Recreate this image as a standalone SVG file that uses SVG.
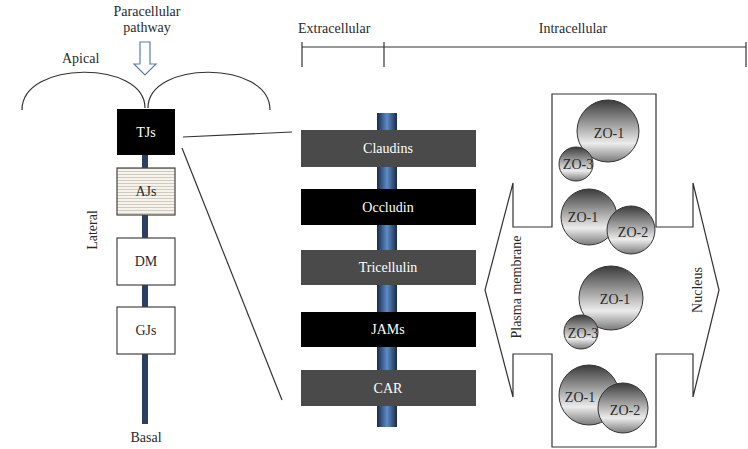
<svg xmlns="http://www.w3.org/2000/svg" width="748" height="449" viewBox="0 0 748 449">
<defs>
<linearGradient id="bar" x1="0" y1="0" x2="1" y2="0">
<stop offset="0" stop-color="#1b2a48"/><stop offset="0.5" stop-color="#5b8cc8"/><stop offset="1" stop-color="#1b2a48"/>
</linearGradient>
<linearGradient id="ball" x1="0" y1="0" x2="0" y2="1">
<stop offset="0" stop-color="#3a3a3a"/><stop offset="0.7" stop-color="#ececec"/><stop offset="1" stop-color="#7a7a7a"/>
</linearGradient>
<pattern id="stripe" width="6" height="3" patternUnits="userSpaceOnUse">
<rect width="6" height="3" fill="#f6f3ec"/><line x1="0" y1="0.5" x2="6" y2="0.5" stroke="#cfcac0" stroke-width="1"/>
</pattern>
<style>
text{font-family:"Liberation Serif",serif;fill:#2a2a2a;font-size:14px}
.c{text-anchor:middle}
.w{fill:#fff}
.ln{fill:none;stroke:#333;stroke-width:1.2}
.box{stroke:#444;stroke-width:1.2}
.ball{fill:url(#ball);stroke:#333;stroke-width:1}
</style>
</defs>
<rect width="748" height="449" fill="#fff"/>

<g id="labels-left">
<text class="c" x="147" y="16">Paracellular</text>
<text class="c" x="147" y="32">pathway</text>
<text x="62" y="63">Apical</text>
<text class="c" x="146" y="442">Basal</text>
<text class="c" transform="translate(97,230) rotate(-90)">Lateral</text>
</g>
<g id="pathway-arrow">
<path d="M140,42 H150 V64 H156 L145,75 L134,64 H140 Z" fill="#fff" stroke="#5b7fa8" stroke-width="1.2"/>
</g>
<g id="apical-arcs">
<path class="ln" d="M22,110 C22,60 145,60 145,108"/>
<path class="ln" d="M148,108 C148,60 270,60 270,110"/>
</g>
<g id="membrane-left">
<rect x="142" y="150" width="6" height="274" fill="#2b3f63"/>
</g>
<g id="TJs">
<rect x="117" y="109" width="58" height="46" fill="#000"/>
<text class="c w" x="146" y="137">TJs</text>
</g>
<g id="AJs">
<rect class="box" x="117" y="168" width="58" height="47" fill="url(#stripe)"/>
<text class="c" x="146" y="196">AJs</text>
</g>
<g id="DM">
<rect class="box" x="117" y="238" width="58" height="47" fill="#fff"/>
<text class="c" x="146" y="266">DM</text>
</g>
<g id="GJs">
<rect class="box" x="117" y="307" width="58" height="47" fill="#fff"/>
<text class="c" x="146" y="335">GJs</text>
</g>

<g id="connectors">
<line class="ln" x1="183" y1="137" x2="292" y2="132"/>
<line class="ln" x1="182" y1="148" x2="282" y2="400"/>
</g>

<g id="scale">
<text x="298" y="33">Extracellular</text>
<text class="c" x="573" y="33">Intracellular</text>
<line class="ln" x1="302" y1="47" x2="746" y2="47"/>
<line class="ln" x1="302" y1="42" x2="302" y2="67"/>
<line class="ln" x1="384" y1="42" x2="384" y2="67"/>
<line class="ln" x1="746" y1="42" x2="746" y2="67"/>
</g>

<g id="membrane-right">
<rect x="377" y="113" width="20" height="314" fill="url(#bar)"/>
</g>
<g id="Claudins"><rect x="301" y="130" width="175" height="37" fill="#4a4a4a"/><text class="c w" x="388" y="153">Claudins</text></g>
<g id="Occludin"><rect x="301" y="189" width="175" height="36" fill="#000"/><text class="c w" x="388" y="212">Occludin</text></g>
<g id="Tricellulin"><rect x="301" y="250" width="175" height="35" fill="#4a4a4a"/><text class="c w" x="388" y="272">Tricellulin</text></g>
<g id="JAMs"><rect x="301" y="312" width="175" height="35" fill="#000"/><text class="c w" x="388" y="334">JAMs</text></g>
<g id="CAR"><rect x="301" y="370" width="175" height="36" fill="#4a4a4a"/><text class="c w" x="388" y="393">CAR</text></g>

<g id="double-arrow">
<path class="ln" d="M552,94 H656 V227 H693 V183 L719,290 L693,397 V354 H656 V447 H552 V354 H513 V397 L485,290 L513,183 V227 H552 Z" fill="#fff"/>
<text class="c" transform="translate(521,287) rotate(-90)">Plasma membrane</text>
<text class="c" transform="translate(702,290) rotate(-90)">Nucleus</text>
</g>

<g id="zo-group-1">
<circle class="ball" cx="608" cy="131" r="31"/>
<circle class="ball" cx="576" cy="164" r="17"/>
<text class="c" x="609" y="138">ZO-1</text>
<text class="c" x="578" y="169">ZO-3</text>
</g>
<g id="zo-group-2">
<circle class="ball" cx="589" cy="217" r="28"/>
<circle class="ball" cx="631" cy="230" r="24"/>
<text class="c" x="583" y="222">ZO-1</text>
<text class="c" x="633" y="237">ZO-2</text>
</g>
<g id="zo-group-3">
<circle class="ball" cx="611" cy="298" r="32"/>
<circle class="ball" cx="581" cy="332" r="17"/>
<text class="c" x="615" y="304">ZO-1</text>
<text class="c" x="583" y="338">ZO-3</text>
</g>
<g id="zo-group-4">
<circle class="ball" cx="589" cy="395" r="30"/>
<circle class="ball" cx="623" cy="408" r="25"/>
<text class="c" x="580" y="402">ZO-1</text>
<text class="c" x="625" y="415">ZO-2</text>
</g>
</svg>
